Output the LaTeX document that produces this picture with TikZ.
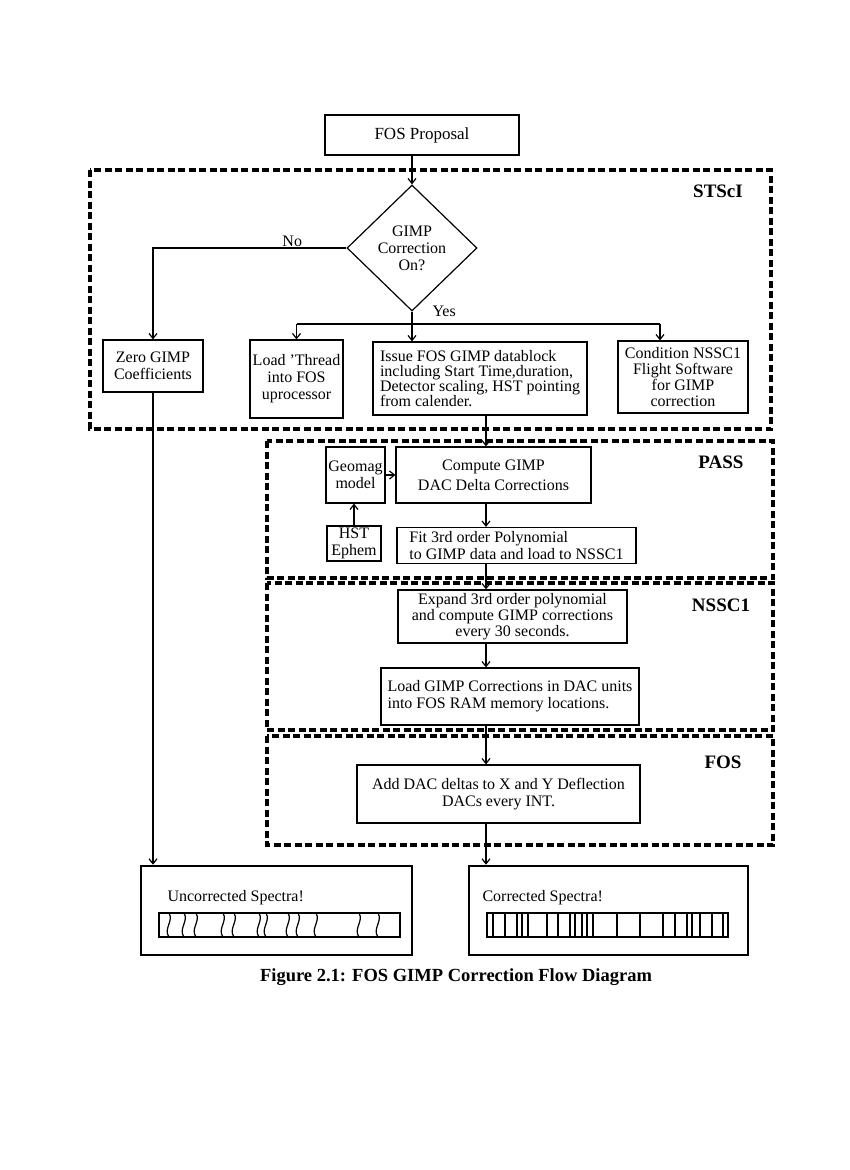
\documentclass[tikz,border=0pt]{standalone}
\usepackage{fontspec}
\setmainfont{Liberation Serif}
\usetikzlibrary{shapes.geometric, arrows.meta}

\begin{document}
\begin{tikzpicture}[x=1pt, y=-1pt,
    font=\fontsize{16}{17}\selectfont,
    box/.style={draw, line width=1.2pt, align=center, inner sep=2pt},
    region/.style={draw, line width=3.5pt, dash pattern=on 7pt off 3.5pt},
    tag/.style={font=\fontsize{19}{20}\selectfont\bfseries},
    arr/.style={line width=1.2pt, -{Straight Barb[length=5pt,width=8pt]}},
    link/.style={line width=1.2pt},
    spec/.style={draw, line width=2.6pt}]

    \useasboundingbox (0,0) rectangle (850,1170);

    % Regions
    \draw[region] (90,170) rectangle (771,429);
    \draw[region] (267,441) rectangle (773,578);
    \draw[region] (267,583) rectangle (773,730);
    \draw[region] (267,736) rectangle (773,845);
    \node[tag] (lstsci) at (718,191) {STScI};
    \node[tag] (lpass) at (721,462) {PASS};
    \node[tag] (lnssc) at (721,605) {NSSC1};
    \node[tag] (lfos) at (723,762) {FOS};

    % STScI
    \node[box, minimum width=194pt, minimum height=40pt, font=\fontsize{17}{18}\selectfont] (prop) at (422,135) {FOS Proposal};
    \node[box, shape=diamond, minimum width=130pt, minimum height=126pt, inner sep=0pt] (gimp) at (412,248) {GIMP\\Correction\\On?};
    \node[box, minimum width=100pt, minimum height=52pt] (zero) at (153,366) {Zero GIMP\\Coefficients};
    \node[box, minimum width=93pt, minimum height=78pt, inner sep=1pt] (load) at (296.5,379) {Load 'Thread\\into FOS\\uprocessor};
    \node[box, minimum width=214pt, minimum height=73pt, align=left, font=\fontsize{16}{15}\selectfont] (issue) at (480,378.5) {Issue FOS GIMP datablock\\including Start Time,duration,\\Detector scaling, HST pointing\\from calender.};
    \node[box, minimum width=130pt, minimum height=72pt, font=\fontsize{16}{16}\selectfont] (cond) at (683,377) {Condition NSSC1\\Flight Software\\for GIMP\\correction};

    % PASS
    \node[box, minimum width=59pt, minimum height=56pt, inner sep=0pt] (geo) at (355.5,475) {Geomag\\model};
    \node[box, minimum width=195pt, minimum height=56pt, font=\fontsize{16}{20}\selectfont] (comp) at (493.5,475) {Compute GIMP\\DAC Delta Corrections};
    \node[box, minimum width=54pt, minimum height=35pt, inner sep=0pt] (hst) at (354,543.5) {HST\\Ephem};
    \node[box, minimum width=239pt, minimum height=36pt, align=left, inner sep=1pt] (fit) at (516.5,545.5) {Fit 3rd order Polynomial\\to GIMP data and load to NSSC1};

    % NSSC1
    \node[box, minimum width=229pt, minimum height=53pt, font=\fontsize{16}{16}\selectfont] (expand) at (512.5,616.5) {Expand 3rd order polynomial\\and compute GIMP corrections\\every 30 seconds.};
    \node[box, minimum width=258pt, minimum height=57pt, align=left] (loadg) at (510,696.5) {Load GIMP Corrections in DAC units\\into FOS RAM memory locations.};

    % FOS
    \node[box, minimum width=283pt, minimum height=58pt] (adddac) at (498.5,794) {Add DAC deltas to X and Y Deflection\\DACs every INT.};

    % Spectra
    \node[spec, minimum width=271pt, minimum height=89pt] (unc) at (276.5,910.5) {};
    \node[anchor=west] (unclbl) at (164,898) {Uncorrected Spectra!};
    \draw[link] (159,913) rectangle (400,937);
    \foreach \x in {168,183,195,222,233,258,265,287,297,315,358,377} {
        \draw[link] (\x+1,913) .. controls (\x+6,921) and (\x-5,929) .. (\x+1,937);
    }
    \node[spec, minimum width=279pt, minimum height=89pt] (cor) at (608.5,910.5) {};
    \node[anchor=west] (corlbl) at (479,898) {Corrected Spectra!};
    \draw[link] (487,913) rectangle (728,937);
    \foreach \x in {493,505,517,522,528,547,558,570,575,582,587,593,617,640,663,675,687,692,700,712,723} {
        \draw[link] (\x,913) -- (\x,937);
    }

    % Caption
    \node[font=\fontsize{18.5}{20}\selectfont\bfseries] (caption) at (456,977) {Figure 2.1: FOS GIMP Correction Flow Diagram};

    % Connectors
    \coordinate (split) at (412,324);
    \coordinate (yl) at (load.north |- split);
    \coordinate (yr) at (660,324);
    \coordinate (col) at (486,0);
    \draw[arr] (prop.south -| gimp.north) -- (gimp.north);
    \draw[arr] (gimp.west) -| node[pos=0.14, above, inner sep=1pt] (no) {No} (zero.north);
    \draw[arr] (gimp.south) -- (gimp.south |- issue.north);
    \node[anchor=west] (yes) at ([xshift=17pt]gimp.south) {Yes};
    \draw[link] (yl) -- (yr);
    \draw[arr] (yl) -- (load.north);
    \draw[arr] (yr) -- (yr |- cond.north);
    \draw[arr] (zero.south) -- (unc.north -| zero.south);
    \draw[arr] (issue.south -| col) -- (comp.north -| col);
    \draw[arr] (geo.east) -- (comp.west);
    \draw[arr] (hst.north) -- (hst.north |- geo.south);
    \draw[arr] (comp.south -| col) -- (fit.north -| col);
    \draw[arr] (fit.south -| col) -- (expand.north -| col);
    \draw[arr] (expand.south -| col) -- (loadg.north -| col);
    \draw[arr] (loadg.south -| col) -- (adddac.north -| col);
    \draw[arr] (adddac.south -| col) -- (cor.north -| col);

\end{tikzpicture}
\end{document}
